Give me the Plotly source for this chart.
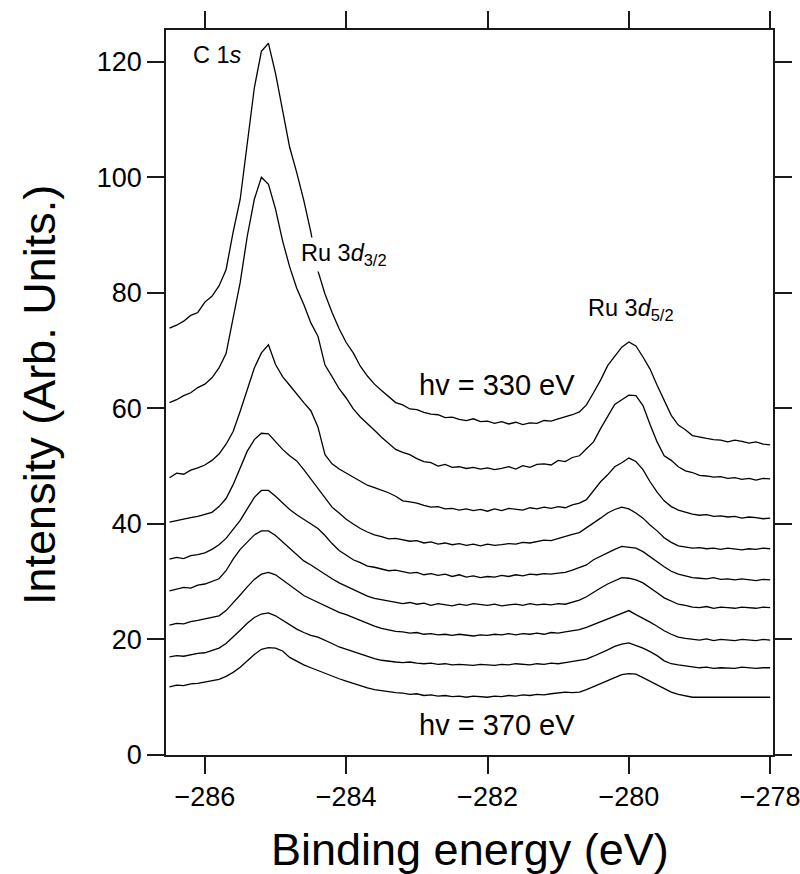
import numpy as np
import plotly.graph_objects as go

# Binding-energy grid (eV), 0.1 eV steps from -286.5 to -278.0
energy = np.round(np.linspace(-286.5, -278.0, 86), 2)

# Stacked spectra, top (hv = 330 eV) to bottom (hv = 370 eV)
spec_330 = [73.9, 74.4, 75.1, 76.1, 76.6, 78.4, 79.4, 81.2, 84.0, 90.5,
            96.2, 105.8, 115.5, 121.8, 123.2, 118.0, 111.5, 105.2, 100.8, 96.0,
            90.5, 83.8, 79.8, 76.6, 73.8, 71.4, 69.6, 67.3, 65.6, 64.2,
            63.1, 62.1, 61.0, 60.6, 59.9, 59.8, 59.3, 59.0, 58.9, 58.4,
            58.5, 58.1, 57.9, 58.2, 57.7, 57.8, 57.4, 57.7, 57.3, 57.6,
            57.2, 57.5, 57.4, 57.9, 57.8, 58.2, 58.5, 58.9, 59.4, 60.6,
            62.7, 64.9, 67.4, 68.9, 70.6, 71.5, 70.8, 68.9, 66.8, 64.0,
            61.5, 58.8, 57.1, 56.3, 55.3, 55.0, 54.8, 54.6, 54.5, 54.2,
            54.5, 54.3, 54.0, 54.2, 53.8, 53.7]
spec_335 = [61.0, 61.5, 62.2, 62.7, 63.6, 64.2, 65.3, 67.0, 69.5, 76.0,
            81.8, 89.8, 96.2, 100.0, 98.8, 94.5, 89.0, 84.5, 80.8, 78.0,
            74.8, 72.5, 67.5, 65.5, 63.4, 61.8, 59.9, 58.5, 57.4, 56.2,
            55.0, 54.0, 52.9, 52.4, 52.0, 51.3, 50.8, 50.6, 50.0, 50.3,
            49.8, 49.9, 49.6, 49.8, 49.5, 49.7, 49.4, 49.6, 49.9, 49.5,
            50.1, 49.8, 50.3, 50.4, 50.2, 51.0, 50.8, 51.5, 51.8, 53.0,
            54.2, 56.5, 58.6, 60.7, 61.5, 62.3, 62.2, 60.5, 57.2, 54.2,
            51.8, 51.0, 49.9, 49.2, 48.9, 48.4, 48.3, 48.1, 48.2, 47.9,
            48.0, 47.7, 47.9, 47.6, 47.9, 47.8]
spec_340 = [48.0, 48.8, 48.6, 49.3, 49.7, 50.2, 51.0, 52.1, 53.8, 56.0,
            59.5, 63.2, 67.0, 69.6, 71.0, 67.6, 65.5, 64.0, 62.4, 61.0,
            59.6, 56.8, 52.0, 50.4, 49.5, 48.8, 48.0, 47.3, 46.7, 46.3,
            45.9, 45.4, 44.8, 44.0, 43.8, 43.6, 43.2, 42.9, 43.0, 42.6,
            42.7, 42.4, 42.6, 42.3, 42.5, 42.2, 42.6, 42.3, 42.7, 42.5,
            42.4, 42.8, 42.6, 42.9, 42.7, 43.0, 42.8, 43.3, 43.6, 44.2,
            45.8, 47.3, 48.5, 49.9, 50.6, 51.4, 50.8, 49.4, 47.3, 45.5,
            44.0, 43.0, 42.4, 42.0, 41.7, 41.5, 41.6, 41.3, 41.4, 41.2,
            41.3, 41.0, 41.2, 41.1, 40.9, 41.0]
spec_345 = [40.3, 40.6, 40.9, 41.1, 41.3, 41.7, 42.0, 43.0, 44.4, 46.8,
            49.6, 52.6, 54.6, 55.7, 55.6, 54.2, 52.9, 51.8, 50.9, 49.4,
            47.8, 46.3, 44.6, 42.9, 41.9, 40.8, 40.0, 39.2, 38.6, 38.1,
            37.8, 37.4, 37.5, 37.3, 37.0, 37.1, 36.7, 36.9, 36.5, 36.7,
            36.4, 36.6, 36.3, 36.5, 36.2, 36.5, 36.3, 36.4, 36.6, 36.5,
            36.8, 36.7, 37.0, 37.2, 37.1, 37.5, 37.8, 38.2, 38.5, 39.3,
            40.2, 41.0, 41.9, 42.5, 42.9, 42.6, 41.9, 41.0, 39.8, 38.8,
            37.6, 36.8, 36.2, 36.0, 35.8, 35.9, 35.7, 35.8, 35.6, 35.8,
            35.7, 35.5, 35.7, 35.6, 35.8, 35.7]
spec_350 = [33.9, 34.2, 34.0, 34.5, 34.7, 35.0, 35.6, 36.4, 37.5, 39.0,
            40.6, 42.6, 44.6, 45.8, 45.8, 44.8, 43.6, 42.5, 41.6, 40.8,
            39.9, 39.2, 38.0, 36.6, 35.4, 34.6, 33.8, 33.3, 32.7, 32.5,
            32.2, 31.9, 32.0, 31.7, 31.5, 31.6, 31.2, 31.4, 31.1, 31.3,
            30.9, 31.2, 30.8, 31.0, 30.7, 30.9, 30.8, 31.1, 30.9, 31.2,
            31.0, 31.3, 31.2, 31.4, 31.3, 31.5, 31.6, 32.0, 32.4, 32.9,
            33.8, 34.4, 35.1, 35.6, 36.1, 36.0, 35.8, 35.2, 34.3, 33.4,
            32.6, 31.8, 31.3, 31.0, 30.7, 30.6, 30.5, 30.7, 30.4, 30.5,
            30.3, 30.5, 30.4, 30.2, 30.4, 30.3]
spec_355 = [28.4, 28.7, 29.0, 28.9, 29.4, 29.6, 30.0, 30.5, 31.9, 33.9,
            35.6, 36.9, 38.1, 38.8, 38.8, 38.0, 36.9, 35.8, 34.6, 33.6,
            32.9, 32.1, 31.2, 30.5, 29.8, 29.2, 28.6, 28.0, 27.5, 27.1,
            26.9, 26.6, 26.5, 26.2, 26.4, 26.1, 26.3, 25.9, 26.2, 26.0,
            25.8, 26.1, 25.9, 26.2, 26.0, 25.9, 26.1, 25.8, 26.0, 26.1,
            25.9, 26.2, 26.0, 26.1, 26.0, 26.2, 26.1, 26.5, 26.8, 27.4,
            28.2, 28.9, 29.6, 30.2, 30.7, 30.6, 30.3, 29.8, 29.0, 28.1,
            27.2, 26.6, 26.1, 25.9, 25.6, 25.5, 25.7, 25.4, 25.6, 25.5,
            25.4, 25.6, 25.5, 25.4, 25.6, 25.5]
spec_360 = [22.5, 22.8, 22.7, 23.1, 23.3, 23.6, 23.8, 24.1, 25.0, 26.3,
            27.7, 29.1, 30.4, 31.3, 31.6, 31.2, 30.3, 29.4, 28.4, 27.6,
            27.0, 26.4, 25.8, 25.2, 24.7, 24.3, 23.8, 23.2, 22.7, 22.3,
            21.9, 21.6, 21.4, 21.3, 21.1, 21.2, 20.9, 21.0, 20.8, 20.9,
            20.7, 20.9, 20.8, 20.6, 20.8, 20.7, 20.9, 20.8, 21.0, 20.8,
            21.0, 20.9, 21.1, 20.9, 21.2, 21.1, 21.3, 21.5, 21.7, 22.1,
            22.6, 23.1, 23.6, 24.0, 24.6, 25.0, 24.3, 23.7, 23.0, 22.3,
            21.5, 20.9, 20.4, 20.2, 20.0, 19.9, 20.1, 19.8, 20.0, 19.9,
            19.8, 20.0, 19.9, 19.8, 20.0, 19.9]
spec_365 = [17.0, 17.2, 17.1, 17.4, 17.6, 17.7, 18.1, 18.5, 19.3, 20.4,
            21.6, 22.8, 23.8, 24.4, 24.6, 24.1, 23.3, 22.5, 21.8, 21.2,
            20.7, 20.4, 19.9, 19.3, 18.7, 18.3, 17.8, 17.4, 17.0, 16.7,
            16.4, 16.2, 16.1, 16.0, 16.1, 15.9, 15.8, 15.9, 15.7, 15.8,
            15.6, 15.7, 15.6, 15.5, 15.7, 15.6, 15.5, 15.7, 15.6, 15.8,
            15.7, 15.6, 15.8, 15.7, 15.9, 15.8, 16.0, 16.2, 16.4, 16.6,
            17.1, 17.6, 18.2, 18.8, 19.2, 19.4, 19.0, 18.5, 17.9, 17.2,
            16.3, 15.8, 15.6, 15.4, 15.2, 15.1, 15.2, 15.0, 15.1, 15.1,
            15.0, 15.2, 15.1, 15.0, 15.1, 15.1]
spec_370 = [11.8, 12.1, 12.0, 12.3, 12.4, 12.6, 12.8, 13.1, 13.6, 14.3,
            15.2, 16.3, 17.4, 18.3, 18.6, 18.5, 18.0, 16.9, 16.2, 15.6,
            15.1, 14.6, 14.2, 13.7, 13.2, 12.8, 12.4, 11.9, 11.6, 11.3,
            11.1, 10.9, 10.8, 10.7, 10.5, 10.6, 10.3, 10.4, 10.2, 10.3,
            10.1, 10.2, 10.0, 10.2, 10.1, 10.0, 10.2, 10.1, 10.3, 10.2,
            10.4, 10.3, 10.5, 10.4, 10.6, 10.7, 10.9, 10.8, 10.9, 11.3,
            11.8, 12.3, 12.8, 13.3, 13.9, 14.1, 14.0, 13.4, 12.8, 12.1,
            11.5, 10.9, 10.5, 10.2, 10.0, 10.0, 10.0, 10.0, 10.0, 10.0,
            10.0, 10.0, 10.0, 10.0, 10.0, 10.0]

spectra = [spec_330, spec_335, spec_340, spec_345, spec_350,
           spec_355, spec_360, spec_365, spec_370]

x_ticks = [-286, -284, -282, -280, -278]
y_ticks = [0, 20, 40, 60, 80, 100, 120]

FONT = "Liberation Sans, Arial, sans-serif"
AXIS_COLOR = "#1a1a1a"

fig = go.Figure()
for spec in spectra:
    fig.add_trace(go.Scatter(x=energy, y=spec, mode="lines",
                             line=dict(color="black", width=1.3),
                             showlegend=False, hoverinfo="skip"))

axis_common = dict(showline=True, linecolor=AXIS_COLOR, linewidth=1.5,
                   ticks="outside", ticklen=17, tickwidth=1.5,
                   tickcolor=AXIS_COLOR, mirror="allticks",
                   showgrid=False, zeroline=False, automargin=False,
                   ticklabeloverflow="allow",
                   tickfont=dict(family=FONT, size=27, color="black"))

fig.update_xaxes(range=[-286.55, -277.96], tickvals=x_ticks, **axis_common)
fig.update_yaxes(range=[0, 125.5], tickvals=y_ticks, **axis_common)

ann_font = dict(family=FONT, size=23.5, color="black")
lbl_font = dict(family=FONT, size=29, color="black")
title_font = dict(family=FONT, size=45, color="black")
annotations = [
    dict(x=-286.19, y=121.2, text="C 1<i>s</i>", font=ann_font,
         xanchor="left", yanchor="middle", showarrow=False),
    dict(x=-284.68, y=86.6, text="Ru 3<i>d</i><sub>3/2</sub>", font=ann_font,
         xanchor="left", yanchor="middle", showarrow=False,
         bgcolor="white", borderpad=2),
    dict(x=-280.61, y=77.1, text="Ru 3<i>d</i><sub>5/2</sub>", font=ann_font,
         xanchor="left", yanchor="middle", showarrow=False),
    dict(x=-283.0, y=64.1, text="hv = 330 eV", font=lbl_font,
         xanchor="left", yanchor="middle", showarrow=False),
    dict(x=-283.0, y=5.2, text="hv = 370 eV", font=lbl_font,
         xanchor="left", yanchor="middle", showarrow=False),
    # axis titles
    dict(xref="paper", yref="paper", x=0.5, y=-0.131,
         text="Binding energy (eV)", font=title_font,
         xanchor="center", yanchor="middle", showarrow=False),
    dict(xref="paper", yref="paper", x=-0.2076, y=0.4966, textangle=-90,
         text="Intensity (Arb. Units.)", font=title_font,
         xanchor="center", yanchor="middle", showarrow=False),
]

fig.update_layout(width=800, height=874,
                  margin=dict(l=166, r=27, t=30, b=119),
                  plot_bgcolor="white", paper_bgcolor="white",
                  annotations=annotations)

fig.write_html("out.html")
